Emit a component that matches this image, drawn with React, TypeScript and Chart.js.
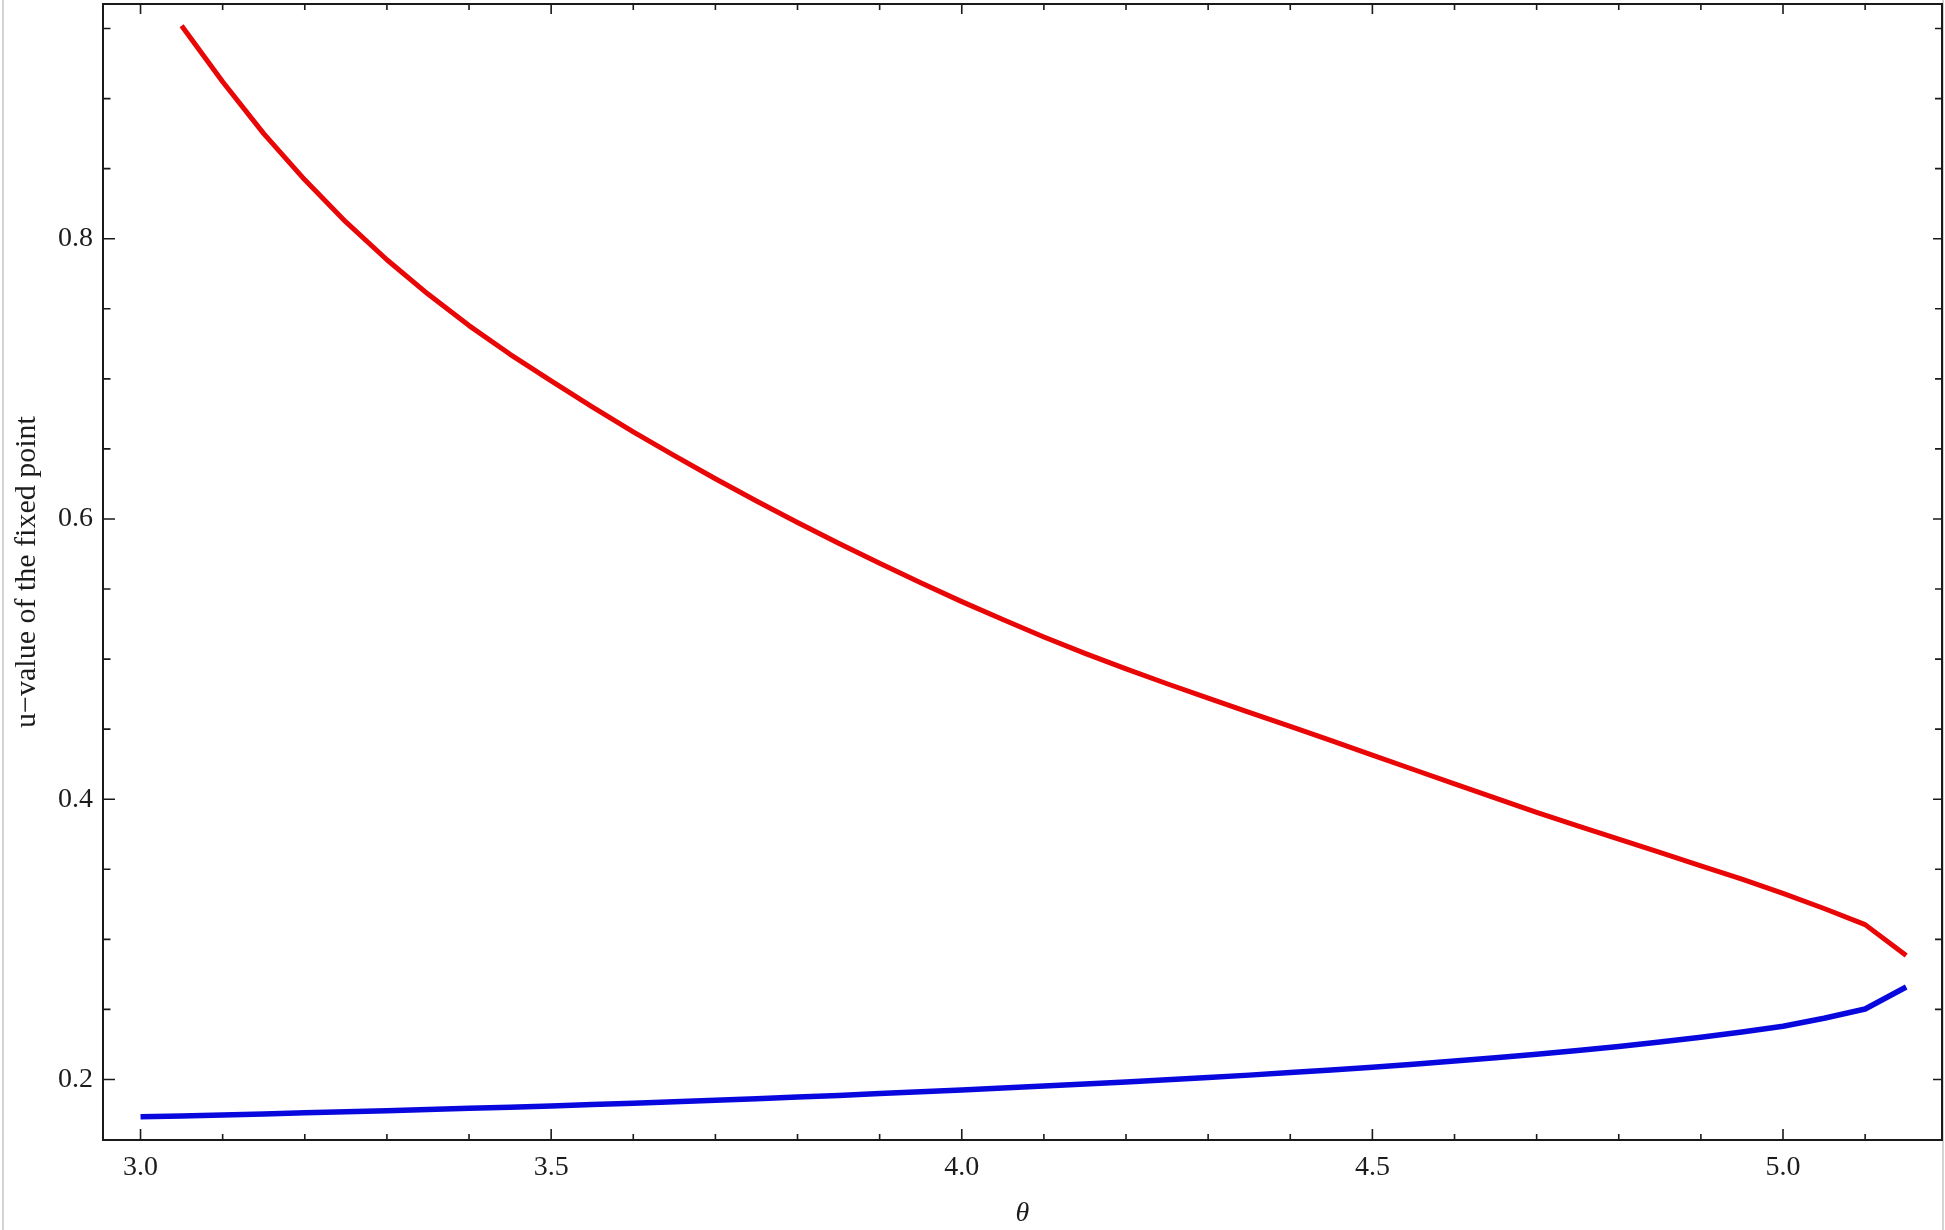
import React, { useEffect, useRef } from 'react';
import { Chart, registerables } from 'chart.js';

Chart.register(...registerables);

// ---- data ----
const redTheta = [
  3.05, 3.1, 3.15, 3.2, 3.25, 3.3, 3.35, 3.4, 3.45, 3.5, 3.55, 3.6, 3.65, 3.7, 3.75,
  3.8, 3.85, 3.9, 3.95, 4.0, 4.05, 4.1, 4.15, 4.2, 4.25, 4.3, 4.35, 4.4, 4.45, 4.5,
  4.55, 4.6, 4.65, 4.7, 4.75, 4.8, 4.85, 4.9, 4.95, 5.0, 5.05, 5.1, 5.15,
];
const redU = [
  0.952, 0.912, 0.875, 0.842, 0.812, 0.785, 0.7605, 0.738, 0.7175, 0.6985, 0.68, 0.6622,
  0.6452, 0.6287, 0.6128, 0.5975, 0.5827, 0.5684, 0.5545, 0.541, 0.5282, 0.5158, 0.5041,
  0.493, 0.4824, 0.4721, 0.462, 0.452, 0.4418, 0.4315, 0.4212, 0.411, 0.4007, 0.3906,
  0.381, 0.3715, 0.362, 0.3525, 0.343, 0.3328, 0.322, 0.3105, 0.2884,
];
const blueTheta = [
  3.0, 3.05, 3.1, 3.15, 3.2, 3.25, 3.3, 3.35, 3.4, 3.45, 3.5, 3.55, 3.6, 3.65, 3.7, 3.75,
  3.8, 3.85, 3.9, 3.95, 4.0, 4.05, 4.1, 4.15, 4.2, 4.25, 4.3, 4.35, 4.4, 4.45, 4.5,
  4.55, 4.6, 4.65, 4.7, 4.75, 4.8, 4.85, 4.9, 4.95, 5.0, 5.05, 5.1, 5.15,
];
const blueU = [
  0.1734, 0.174, 0.1747, 0.1754, 0.1762, 0.1769, 0.1777, 0.1785, 0.1794, 0.1802, 0.1811,
  0.1821, 0.1831, 0.1841, 0.1852, 0.1863, 0.1874, 0.1886, 0.1899, 0.1912, 0.1925, 0.1939,
  0.1953, 0.1967, 0.1982, 0.1998, 0.2014, 0.2031, 0.2049, 0.2068, 0.2088, 0.2109, 0.2131,
  0.2155, 0.218, 0.2207, 0.2236, 0.2267, 0.2301, 0.2338, 0.238, 0.2437, 0.2503, 0.266,
];

const xTickLabels = [3.0, 3.5, 4.0, 4.5, 5.0];
const yTickLabels = [0.2, 0.4, 0.6, 0.8];
const xMinorTicks = [
  3.0, 3.1, 3.2, 3.3, 3.4, 3.5, 3.6, 3.7, 3.8, 3.9, 4.0, 4.1, 4.2, 4.3, 4.4, 4.5, 4.6,
  4.7, 4.8, 4.9, 5.0, 5.1,
];
const yMinorTicks = [
  0.2, 0.25, 0.3, 0.35, 0.4, 0.45, 0.5, 0.55, 0.6, 0.65, 0.7, 0.75, 0.8, 0.85, 0.9, 0.95,
];

const X_MIN = 2.9543;
const X_MAX = 5.1936;
const Y_MIN = 0.1568;
const Y_MAX = 0.9675;

const TEXT_COLOR = '#1c1c1c';
const FRAME_COLOR = '#1a1a1a';
const FONT_FAMILY = '"Liberation Serif", "Times New Roman", serif';

const isMajor = (v: number, list: number[]) => list.some((m) => Math.abs(m - v) < 1e-6);

const frameTicksPlugin = {
  id: 'frameTicks',
  afterDatasetsDraw(chart: any) {
    const { ctx, chartArea, scales } = chart;
    const { left, right, top, bottom } = chartArea;
    const xs = scales.x;
    const ys = scales.y;
    ctx.save();
    ctx.strokeStyle = FRAME_COLOR;
    ctx.lineWidth = 1.6;
    ctx.lineCap = 'butt';
    ctx.beginPath();
    for (const v of xMinorTicks) {
      const px = xs.getPixelForValue(v);
      const major = isMajor(v, xTickLabels);
      const lb = major ? 11 : 6;
      const lt = major ? 10 : 6;
      ctx.moveTo(px, bottom);
      ctx.lineTo(px, bottom - lb);
      ctx.moveTo(px, top);
      ctx.lineTo(px, top + lt);
    }
    for (const v of yMinorTicks) {
      const py = ys.getPixelForValue(v);
      const major = isMajor(v, yTickLabels);
      const ll = major ? 12 : 7.5;
      const lr = major ? 9 : 7;
      ctx.moveTo(left, py);
      ctx.lineTo(left + ll, py);
      ctx.moveTo(right, py);
      ctx.lineTo(right - lr, py);
    }
    ctx.stroke();
    ctx.lineWidth = 2;
    ctx.strokeRect(left, top, right - left, bottom - top);
    ctx.restore();
  },
};

export default function App() {
  const canvasRef = useRef<HTMLCanvasElement | null>(null);

  useEffect(() => {
    const canvas = canvasRef.current;
    if (!canvas) return;
    const chart = new Chart(canvas, {
      type: 'line',
      data: {
        datasets: [
          {
            label: 'stable',
            data: blueTheta.map((t, i) => ({ x: t, y: blueU[i] })),
            borderColor: 'rgb(8, 8, 222)',
            borderWidth: 5.5,
            pointRadius: 0,
            tension: 0,
            fill: false,
            borderCapStyle: 'butt',
            borderJoinStyle: 'round',
          },
          {
            label: 'unstable',
            data: redTheta.map((t, i) => ({ x: t, y: redU[i] })),
            borderColor: 'rgb(232, 6, 6)',
            borderWidth: 5,
            pointRadius: 0,
            tension: 0,
            fill: false,
            borderCapStyle: 'butt',
            borderJoinStyle: 'round',
          },
        ],
      },
      options: {
        responsive: false,
        devicePixelRatio: 1,
        animation: false,
        events: [],
        layout: { padding: { top: 4, right: 3, left: 0, bottom: 0 } },
        plugins: {
          legend: { display: false },
          tooltip: { enabled: false },
          title: { display: false },
        },
        scales: {
          x: {
            type: 'linear',
            min: X_MIN,
            max: X_MAX,
            grid: { display: false, drawTicks: false },
            border: { display: false },
            ticks: {
              autoSkip: false,
              maxRotation: 0,
              minRotation: 0,
              padding: 11,
              color: TEXT_COLOR,
              font: { family: FONT_FAMILY, size: 28 },
              callback: (v: any) => Number(v).toFixed(1),
            },
            title: {
              display: true,
              text: 'θ',
              color: TEXT_COLOR,
              font: { family: FONT_FAMILY, size: 28, style: 'italic' },
              padding: { top: 0, bottom: 0 },
            },
            afterBuildTicks: (s: any) => {
              s.ticks = xTickLabels.map((v) => ({ value: v }));
            },
            afterFit: (s: any) => {
              s.height = 90;
              s.paddingLeft = 0;
              s.paddingRight = 0;
              s.paddingTop = 0;
              s.paddingBottom = 0;
            },
          },
          y: {
            type: 'linear',
            min: Y_MIN,
            max: Y_MAX,
            grid: { display: false, drawTicks: false },
            border: { display: false },
            ticks: {
              autoSkip: false,
              padding: 10,
              color: TEXT_COLOR,
              font: { family: FONT_FAMILY, size: 28 },
              callback: (v: any) => Number(v).toFixed(1),
            },
            title: {
              display: true,
              text: 'u−value of the fixed point',
              color: TEXT_COLOR,
              font: { family: FONT_FAMILY, size: 30 },
              padding: { top: 9, bottom: 0 },
            },
            afterBuildTicks: (s: any) => {
              s.ticks = yTickLabels.map((v) => ({ value: v }));
            },
            afterFit: (s: any) => {
              s.width = 103;
              s.paddingLeft = 0;
              s.paddingRight = 0;
              s.paddingTop = 0;
              s.paddingBottom = 0;
            },
          },
        },
      },
      plugins: [frameTicksPlugin],
    } as any);
    return () => chart.destroy();
  }, []);

  return (
    <div
      style={{
        position: 'absolute',
        left: 0,
        top: 0,
        width: 1945,
        height: 1230,
        background: '#ffffff',
        overflow: 'hidden',
      }}
    >
      <div
        style={{
          position: 'absolute',
          left: 2,
          top: 0,
          width: 1938,
          height: 1230,
          borderLeft: '2px solid #d4d4d4',
          borderRight: '2px solid #d4d4d4',
        }}
      />
      <canvas
        ref={canvasRef}
        width={1945}
        height={1230}
        style={{ position: 'absolute', left: 0, top: 0, width: 1945, height: 1230 }}
      />
    </div>
  );
}
